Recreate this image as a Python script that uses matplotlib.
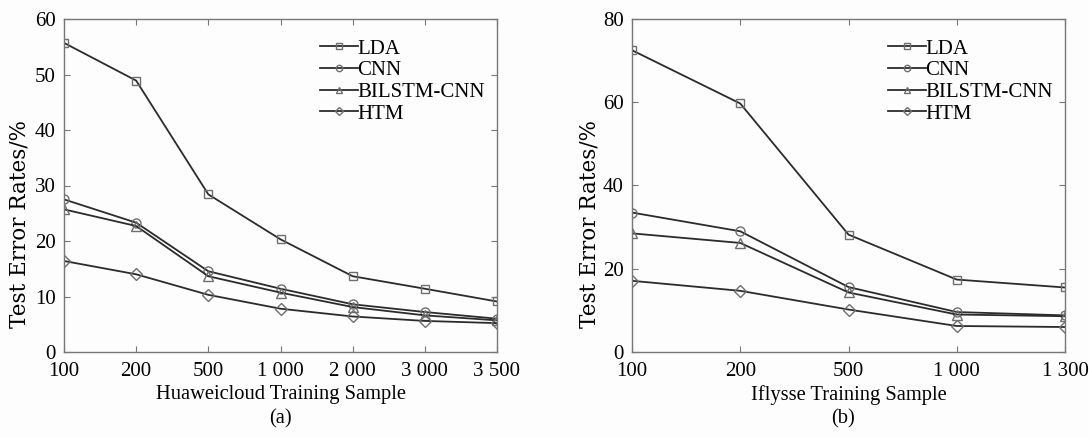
import matplotlib
matplotlib.use("Agg")
import matplotlib.pyplot as plt

plt.rcParams['font.family'] = ['Liberation Serif', 'DejaVu Serif']

labels_a = ["100", "200", "500", "1 000", "2 000", "3 000", "3 500"]
labels_b = ["100", "200", "500", "1 000", "1 300"]
series_names = ["LDA", "CNN", "BILSTM-CNN", "HTM"]
markers = ["s", "o", "^", "D"]

lda_a = [55.7, 48.9, 28.4, 20.3, 13.65, 11.4, 9.1]
cnn_a = [27.5, 23.3, 14.55, 11.4, 8.6, 7.2, 6.0]
bilstm_a = [25.7, 22.7, 13.65, 10.7, 8.1, 6.6, 5.7]
htm_a = [16.4, 14.0, 10.3, 7.8, 6.4, 5.6, 5.2]

lda_b = [72.5, 59.7, 28.2, 17.4, 15.5]
cnn_b = [33.5, 29.0, 15.6, 9.6, 8.8]
bilstm_b = [28.5, 26.2, 14.3, 9.0, 8.6]
htm_b = [17.1, 14.7, 10.2, 6.25, 6.0]

W, H = 1089, 437
fig = plt.figure(figsize=(W / 100, H / 100), dpi=100)
fig.patch.set_facecolor("#fdfdfd")

line_c = "#2b2b2b"
mk_c = "#6e6e6e"
fs_tick = 15
fs_lab = 14.8
fs_leg = 15
msizes = {"s": 6, "o": 6.5, "^": 7, "D": 6.5}


def make(ax_rect, labels, data, ylim, yticks, xlabel, cap, cap_x, ylab_x):
    ax = fig.add_axes(ax_rect)
    ax.set_facecolor("#fdfdfd")
    x = list(range(len(labels)))
    for vals, name, m in zip(data, series_names, markers):
        ax.plot(x, vals, color=line_c, lw=1.3, marker=m, markersize=msizes[m],
                markerfacecolor="none", markeredgecolor=mk_c, markeredgewidth=1.0,
                label=name)
    ax.set_xlim(0, len(labels) - 1)
    ax.set_ylim(*ylim)
    ax.set_xticks(x)
    ax.set_xticklabels(labels, fontsize=fs_tick)
    ax.set_yticks(yticks)
    ax.set_yticklabels([str(t) for t in yticks], fontsize=fs_tick)
    ax.tick_params(direction="in", top=True, right=True, length=4, color="#777777")
    ax.tick_params(axis="x", pad=7)
    ax.tick_params(axis="y", pad=6)
    for s in ax.spines.values():
        s.set_color("#777777")
        s.set_linewidth(1.0)
    ax.set_xlabel(xlabel, fontsize=fs_lab, labelpad=3)
    ax.set_ylabel("Test Error Rates/%", fontsize=15.5, family=["DejaVu Serif"],
                  va="center")
    ax.yaxis.set_label_coords((ylab_x - ax_rect[0] * W) / (ax_rect[2] * W),
                              (352 - 224) / 333)
    ax.legend(loc="upper left", bbox_to_anchor=(256 / 433, 1 - 20 / 333), frameon=False,
              fontsize=fs_leg, handlelength=1.8, handletextpad=0.0,
              labelspacing=0.1, borderaxespad=0.0, borderpad=0.0, markerscale=0.7)
    fig.text(cap_x / W, 1 - 419 / H, cap, fontsize=fs_lab, ha="center", va="center")
    return ax


make([64 / W, 85 / H, 433 / W, 333 / H], labels_a, [lda_a, cnn_a, bilstm_a, htm_a],
     (0, 60), [0, 10, 20, 30, 40, 50, 60], "Huaweicloud Training Sample", "(a)", 280, 19.5)
make([632 / W, 85 / H, 433 / W, 333 / H], labels_b, [lda_b, cnn_b, bilstm_b, htm_b],
     (0, 80), [0, 20, 40, 60, 80], "Iflysse Training Sample", "(b)", 843, 589)

fig.savefig("out.png", dpi=100, facecolor=fig.get_facecolor())
